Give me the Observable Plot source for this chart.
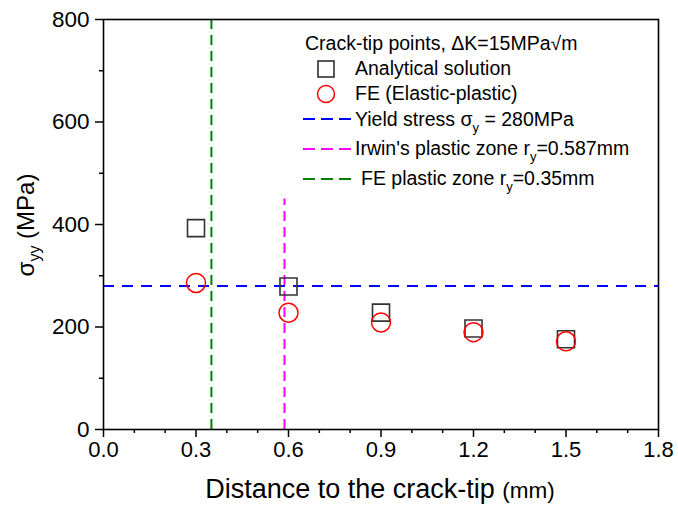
<!DOCTYPE html>
<html>
<head>
<meta charset="utf-8">
<script src="https://cdn.jsdelivr.net/npm/d3@7"></script>
<script src="https://cdn.jsdelivr.net/npm/@observablehq/plot@0.6"></script>
<style>
  html, body { margin: 0; padding: 0; background: #fff; }
  svg { display: block; }
</style>
</head>
<body>
<div id="chart"></div>
<script>
// Data
const distance = [0.3, 0.6, 0.9, 1.2, 1.5];
const analytical = [393, 279, 228, 197, 176];
const feElasticPlastic = [286, 228, 209, 190, 172];
const yieldStress = 280;
const irwinZone = 0.587;
const irwinLineTop = 450;
const feZone = 0.35;
const xTicks = [0, 0.3, 0.6, 0.9, 1.2, 1.5, 1.8];
const xMinorTicks = [0.1, 0.2, 0.4, 0.5, 0.7, 0.8, 1.0, 1.1, 1.3, 1.4, 1.6, 1.7];
const yTicks = [0, 200, 400, 600, 800];
const yMinorTicks = [100, 300, 500, 700];

const pts = distance.map((d, i) => ({x: d, a: analytical[i], f: feElasticPlastic[i]}));

const svg = Plot.plot({
  width: 678,
  height: 506,
  marginLeft: 103,
  marginRight: 20,
  marginTop: 19,
  marginBottom: 77,
  style: {fontFamily: "'Liberation Sans', Arial, sans-serif", color: "#000", background: "#fff"},
  x: {domain: [0, 1.8]},
  y: {domain: [0, 800]},
  marks: [
    Plot.ruleX([feZone], {stroke: "#008000", strokeWidth: 2, strokeDasharray: "10,6"}),
    Plot.ruleX([irwinZone], {y1: 0, y2: irwinLineTop, stroke: "#ff00ff", strokeWidth: 2, strokeDasharray: "10,6"}),
    Plot.ruleY([yieldStress], {stroke: "#0000ff", strokeWidth: 2.2, strokeDasharray: "11,8"}),
    Plot.dot(pts, {x: "x", y: "a", symbol: "square", r: 9.6, stroke: "#333", strokeWidth: 1.6, fill: "none"}),
    Plot.dot(pts, {x: "x", y: "f", symbol: "circle", r: 9.5, stroke: "#ff0000", strokeWidth: 1.5, fill: "none"}),
    Plot.frame({stroke: "#000", strokeWidth: 1.6}),
    Plot.axisX({ticks: xTicks, tickSize: 8, tickPadding: 4, strokeWidth: 1.5, fontSize: 22, tickFormat: d => d.toFixed(1), label: null}),
    Plot.axisX(xMinorTicks, {tickSize: 4, strokeWidth: 1.5, tickFormat: () => "", label: null}),
    Plot.axisY({ticks: yTicks, tickSize: 8, tickPadding: 6, strokeWidth: 1.5, fontSize: 22.5, label: null}),
    Plot.axisY(yMinorTicks, {tickSize: 4, strokeWidth: 1.5, tickFormat: () => "", label: null})
  ]
});

const s = d3.select(svg);
const font = "'Liberation Sans', Arial, sans-serif";

// X axis title
const xt = s.append("text").attr("x", 380).attr("y", 498).attr("text-anchor", "middle")
  .attr("font-family", font).attr("fill", "#000");
xt.append("tspan").attr("font-size", 27).text("Distance to the crack-tip ");
xt.append("tspan").attr("font-size", 22.5).text("(mm)");

// Y axis title
const yt = s.append("text").attr("transform", "translate(34,225) rotate(-90)")
  .attr("text-anchor", "middle").attr("font-family", font).attr("font-size", 24).attr("fill", "#000");
yt.append("tspan").text("σ");
yt.append("tspan").attr("font-size", 16).attr("dy", 6).text("yy");
yt.append("tspan").attr("dy", -6).text(" (MPa)");

// Legend
const lg = s.append("g").attr("font-family", font).attr("font-size", 19.5).attr("fill", "#000")
  .attr("text-anchor", "start");
lg.append("text").attr("x", 305).attr("y", 50).text("Crack-tip points, ΔK=15MPa√m");

lg.append("rect").attr("x", 318).attr("y", 61).attr("width", 16).attr("height", 16)
  .attr("fill", "none").attr("stroke", "#222").attr("stroke-width", 1.5);
lg.append("text").attr("x", 355).attr("y", 75).text("Analytical solution");

lg.append("circle").attr("cx", 326).attr("cy", 94).attr("r", 8.5)
  .attr("fill", "none").attr("stroke", "#ff0000").attr("stroke-width", 1.5);
lg.append("text").attr("x", 355).attr("y", 100).text("FE (Elastic-plastic)");

const legLines = [
  {y: 119, c: "#0000ff"},
  {y: 149, c: "#ff00ff"},
  {y: 179, c: "#008000"}
];
legLines.forEach(l => {
  lg.append("line").attr("x1", 303).attr("x2", 351).attr("y1", l.y).attr("y2", l.y)
    .attr("stroke", l.c).attr("stroke-width", 2).attr("stroke-dasharray", "12,6");
});

function subText(x, y, pre, sub, post) {
  const t = lg.append("text").attr("x", x).attr("y", y);
  t.append("tspan").text(pre);
  t.append("tspan").attr("font-size", 13).attr("dy", 6).text(sub);
  t.append("tspan").attr("dy", -6).text(post);
}
subText(355, 126, "Yield stress σ", "y", " = 280MPa");
subText(355, 155, "Irwin's plastic zone r", "y", "=0.587mm");
subText(361, 185, "FE plastic zone r", "y", "=0.35mm");

document.getElementById("chart").appendChild(svg);
</script>
</body>
</html>
